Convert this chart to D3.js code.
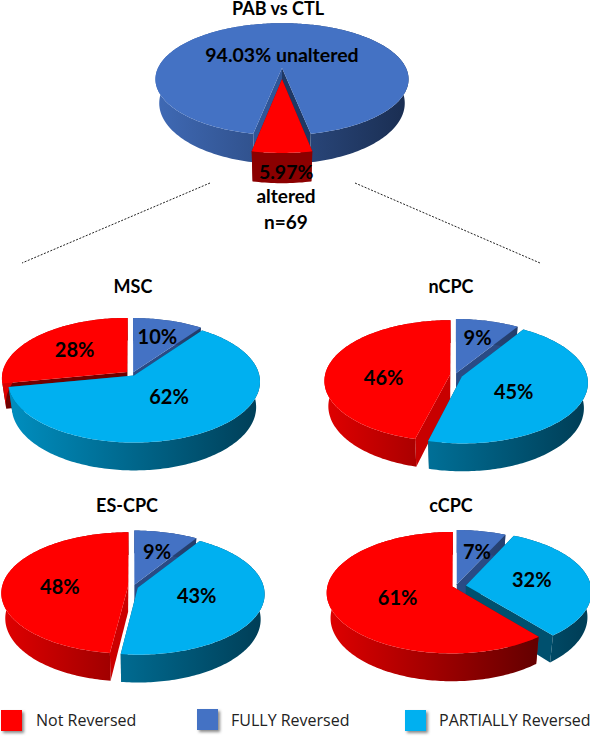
<!DOCTYPE html>
<html>
<head>
<meta charset="utf-8">
<script src="https://cdn.jsdelivr.net/npm/d3@7"></script>
<style>
    body { margin: 0; background: #fff; }
    text { font-family: Lato, "Open Sans", sans-serif; fill: #000; }
    .title, .pct { font-weight: 700; text-anchor: middle; }
    .legend-label { font-family: "Open Sans", sans-serif; font-size: 16px; fill: #222; }
</style>
</head>
<body>
<svg id="vis" width="590" height="737"></svg>
<script>
/**
 * Data
 */
const SERIES = ["Not Reversed", "FULLY Reversed", "PARTIALLY Reversed"];
const PIE_TITLES = ["MSC", "nCPC", "ES-CPC", "cCPC"];
const SLICE_SERIES = ["FULLY Reversed", "PARTIALLY Reversed", "Not Reversed"];
const MSC_VALUES = [10, 62, 28];
const NCPC_VALUES = [9, 45, 46];
const ESCPC_VALUES = [9, 43, 48];
const CCPC_VALUES = [7, 32, 61];
const TOP_TITLE = "PAB vs CTL";
const TOP_NAMES = ["unaltered", "altered"];
const TOP_VALUES = [94.03, 5.97];
const TOP_LABELS = ["94.03% unaltered", "5.97%"];
const TOP_NOTES = ["altered", "n=69"];

/**
 * Colours: top face, wall gradient left/right
 */
const TOP_FILL = {"Not Reversed": "#ff0000", "FULLY Reversed": "#4472c4", "PARTIALLY Reversed": "#00b0f0",
    "unaltered": "#4472c4", "altered": "#ff0000"};
const WALL_FILL = {
    "Not Reversed": ["#dd0000", "#4a0000"],
    "FULLY Reversed": ["#3f69b4", "#1a2e52"],
    "PARTIALLY Reversed": ["#008fc0", "#003f58"],
    "unaltered": ["#3f69b4", "#1a2e52"],
    "altered": ["#8b0000", "#8b0000"]
};

/**
 * Layout of each pie. explode, labelR, labelDa and cutFill follow the slice order.
 */
const TOP_LAYOUT = {cx: 282, cy: 68, R: 124, S: 53.8, p: 0.2, D: 23, shrink: 0.97, rotate: 190.75,
    explode: [0, 0.2], labelR: [0.25, 1.4], labelDa: [0, -1],
    cutFill: [["#2f5597", "#1f3864"], ["#8b0000", "#8b0000"]]};
const PIE_LAYOUTS = [
    {cx: 132, cy: 374, R: 125, S: 60, p: 0.1, D: 25, shrink: 0.97, rotate: 0,
        explode: [0.03, 0.03, 0.05], labelR: [0.7, 0.47, 0.64], labelDa: [0, -5, 2],
        cutFill: [["#2f5597", "#2a4b85"], ["#00506e", "#00506e"], ["#700000", "#700000"]]},
    {cx: 455, cy: 375, R: 125, S: 60, p: 0.1, D: 25, shrink: 0.97, rotate: 0,
        explode: [0.03, 0.06, 0.04], labelR: [0.69, 0.53, 0.57], labelDa: [0, 7, -12],
        cutFill: [["#2f5597", "#2a4b85"], ["#00506e", "#00506e"], ["#c80000", "#c80000"]]},
    {cx: 133, cy: 587, R: 126, S: 60, p: 0.1, D: 25, shrink: 0.97, rotate: 0,
        explode: [0.04, 0.04, 0.04], labelR: [0.65, 0.52, 0.58], labelDa: [2, -3, -4],
        cutFill: [["#2f5597", "#2a4b85"], ["#00506e", "#00506e"], ["#cc0000", "#cc0000"]]},
    {cx: 456, cy: 586, R: 125, S: 60, p: 0.1, D: 25, shrink: 0.97, rotate: 0,
        explode: [0.03, 0.08, 0.03], labelR: [0.62, 0.62, 0.5], labelDa: [4, -2, -4],
        cutFill: [["#2f5597", "#2a4b85"], ["#00506e", "#00506e"], ["#a00000", "#a00000"]]}
];
const PIE_VALUES = [MSC_VALUES, NCPC_VALUES, ESCPC_VALUES, CCPC_VALUES];
const TITLE_POS = [[133, 293], [451, 293], [127, 512], [451, 512]];
const LEGEND_POS = [[1, 710, 36], [197, 709, 231], [405, 710, 439]];

window.onload = function () {
    setup();
};

var _svg, _defs;

function setup() {
    _svg = d3.select("#vis");
    _defs = _svg.append("defs");
    _defs.append("filter").attr("id", "soft")
        .attr("x", "-30%").attr("y", "-30%").attr("width", "160%").attr("height", "160%")
        .append("feGaussianBlur").attr("stdDeviation", 1.5);

    drawPie(TOP_LAYOUT, TOP_VALUES, TOP_NAMES, TOP_LABELS, "top", 19.5);
    PIE_LAYOUTS.forEach(function (layout, i) {
        var labels = PIE_VALUES[i].map(function (v) { return v + "%"; });
        drawPie(layout, PIE_VALUES[i], SLICE_SERIES, labels, "p" + i, 20);
    });

    drawTexts();
    drawLegend();
}

/**
 * Perspective projection of a point on the unit disc to the page.
 * a is clockwise from 12 o'clock, in radians. level 1 is the bottom of the wall.
 */
function projector(layout, offset) {
    return function (a, r, level) {
        var u = r * Math.sin(a) + offset[0];
        var v = r * Math.cos(a) + offset[1];
        var w = 1 + layout.p * v;
        var x = layout.R * u / w;
        var y = -layout.S * v / w;
        if (level) {
            x = x * layout.shrink;
            y = y + layout.D / w;
        }
        return [layout.cx + x, layout.cy + y];
    };
}

function wallGradient(id, stops, layout) {
    var g = _defs.append("linearGradient").attr("id", id)
        .attr("gradientUnits", "userSpaceOnUse")
        .attr("x1", layout.cx - layout.R).attr("x2", layout.cx + layout.R)
        .attr("y1", 0).attr("y2", 0);
    g.append("stop").attr("offset", 0).attr("stop-color", stops[0]);
    g.append("stop").attr("offset", 1).attr("stop-color", stops[1]);
}

function drawPie(layout, values, names, labels, id, fontSize) {
    var rot = layout.rotate * Math.PI / 180;
    var arcs = d3.pie().sort(null)
        .startAngle(rot).endAngle(rot + 2 * Math.PI)(values);
    var line = d3.line();
    var group = _svg.append("g").attr("class", "pie");

    var slices = arcs.map(function (d, i) {
        var mid = (d.startAngle + d.endAngle) / 2;
        var e = layout.explode[i];
        var n = Math.ceil((d.endAngle - d.startAngle) / 0.02);
        return {
            i: i, name: names[i], a0: d.startAngle, a1: d.endAngle, mid: mid,
            project: projector(layout, [e * Math.sin(mid), e * Math.cos(mid)]),
            angles: d3.range(n + 1).map(function (k) {
                return d.startAngle + (d.endAngle - d.startAngle) * k / n;
            })
        };
    });

    // back to front
    slices.sort(function (a, b) { return Math.cos(b.mid) - Math.cos(a.mid); });

    slices.forEach(function (s) {
        var gradId = id + "-wall-" + s.i;
        wallGradient(gradId, WALL_FILL[s.name], layout);

        // cut faces first so the rim wall covers their lower corners
        [s.a0, s.a1].forEach(function (a, k) {
            var quad = [s.project(a, 0, 0), s.project(a, 1, 0), s.project(a, 1, 1), s.project(a, 0, 1)];
            group.append("path").attr("d", line(quad) + "Z").attr("fill", layout.cutFill[s.i][k]);
        });

        var outer = s.angles.map(function (a) { return s.project(a, 1, 0); })
            .concat(s.angles.slice().reverse().map(function (a) { return s.project(a, 1, 1); }));
        group.append("path").attr("d", line(outer) + "Z").attr("fill", "url(#" + gradId + ")");

        var face = [s.project(0, 0, 0)].concat(s.angles.map(function (a) { return s.project(a, 1, 0); }));
        group.append("path").attr("d", line(face) + "Z").attr("fill", TOP_FILL[s.name]);
    });

    // labels go on top of every slice
    var plain = projector(layout, [0, 0]);
    slices.forEach(function (s) {
        var pos = plain(s.mid + layout.labelDa[s.i] * Math.PI / 180, layout.labelR[s.i], 0);
        group.append("text").attr("class", "pct")
            .attr("x", pos[0]).attr("y", pos[1]).attr("dy", "0.35em")
            .style("font-size", fontSize + "px")
            .text(labels[s.i]);
    });
}

function drawTexts() {
    _svg.append("text").attr("class", "title")
        .attr("x", 278).attr("y", 15).style("font-size", "18px").text(TOP_TITLE);

    _svg.selectAll(".note").data(TOP_NOTES).enter().append("text")
        .attr("class", "title note")
        .attr("x", 286)
        .attr("y", function (d, i) { return 203 + i * 26; })
        .style("font-size", "19px")
        .text(function (d) { return d; });

    _svg.selectAll(".pie-title").data(PIE_TITLES).enter().append("text")
        .attr("class", "title pie-title")
        .attr("x", function (d, i) { return TITLE_POS[i][0]; })
        .attr("y", function (d, i) { return TITLE_POS[i][1]; })
        .style("font-size", "18px")
        .text(function (d) { return d; });

    _svg.selectAll(".guide").data([[210, 183, 22, 263], [355, 183, 540, 263]]).enter().append("line")
        .attr("class", "guide")
        .attr("x1", function (d) { return d[0]; })
        .attr("y1", function (d) { return d[1]; })
        .attr("x2", function (d) { return d[2]; })
        .attr("y2", function (d) { return d[3]; })
        .attr("stroke", "#222").attr("stroke-width", 1).attr("stroke-dasharray", "2,1.5");
}

function drawLegend() {
    var legend = _svg.selectAll(".legend").data(SERIES).enter().append("g").attr("class", "legend");

    legend.append("rect")
        .attr("x", function (d, i) { return LEGEND_POS[i][0] + 2; })
        .attr("y", function (d, i) { return LEGEND_POS[i][1] + 2; })
        .attr("width", 21).attr("height", 21)
        .attr("fill", "#888").attr("filter", "url(#soft)");

    legend.append("rect")
        .attr("x", function (d, i) { return LEGEND_POS[i][0]; })
        .attr("y", function (d, i) { return LEGEND_POS[i][1]; })
        .attr("width", 21).attr("height", 21)
        .attr("fill", function (d) { return TOP_FILL[d]; });

    legend.append("text").attr("class", "legend-label")
        .attr("x", function (d, i) { return LEGEND_POS[i][2]; })
        .attr("y", 726)
        .text(function (d) { return d; });
}
</script>
</body>
</html>
